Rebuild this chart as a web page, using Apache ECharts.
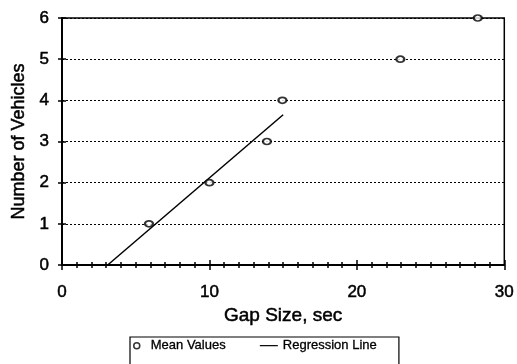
<!DOCTYPE html>
<html><head><meta charset="utf-8">
<script src="https://cdn.jsdelivr.net/npm/echarts@6/dist/echarts.min.js"></script>
<style>html,body{margin:0;padding:0;background:#fff}#c{width:517px;height:364px}</style>
</head><body><div id="c"></div>
<script>
const meanX = [5.9, 10.0, 13.9, 14.95, 22.95, 28.2];
const meanY = [1, 2, 3, 4, 5, 6];
const regX = [3.1, 15.0];
const regY = [0, 3.65];
const xTicks = [0, 10, 20, 30];
const yTicks = [0, 1, 2, 3, 4, 5, 6];

const chart = echarts.init(document.getElementById('c'), null, {renderer: 'canvas'});
const font = 'Liberation Sans, Arial, sans-serif';
const heavy = {textBorderColor: '#000', textBorderWidth: 0.5};
const xMin = xTicks[0], xMax = xTicks[xTicks.length - 1];
const yMin = yTicks[0], yMax = yTicks[yTicks.length - 1];
chart.setOption({
  animation: false,
  backgroundColor: '#fff',
  grid: {left: 62, right: 10, top: 18, bottom: 99, show: true, borderColor: '#000', borderWidth: 1.5, backgroundColor: 'transparent'},
  xAxis: [{
    type: 'value', min: xMin, max: xMax, interval: 10,
    name: 'Gap Size, sec', nameLocation: 'middle', nameGap: 39,
    nameTextStyle: Object.assign({fontFamily: font, fontSize: 19, color: '#000'}, heavy),
    axisLine: {show: true, onZero: false, lineStyle: {color: '#000', width: 2}},
    axisTick: {show: true, inside: false, length: 5, lineStyle: {color: '#000', width: 1.5}},
    minorTick: {show: true, splitNumber: 10, length: 3, lineStyle: {color: '#000', width: 1.5}},
    splitLine: {show: false},
    axisLabel: Object.assign({fontFamily: font, fontSize: 17, color: '#000', margin: 19}, heavy)
  }, {
    type: 'value', min: xMin, max: xMax, interval: 10, position: 'bottom', offset: 0,
    axisLine: {show: false}, axisLabel: {show: false}, splitLine: {show: false},
    axisTick: {show: true, inside: true, length: 5, lineStyle: {color: '#000', width: 1.5}},
    minorTick: {show: true, splitNumber: 10, length: 3, lineStyle: {color: '#000', width: 1.5}}
  }],
  yAxis: [{
    type: 'value', min: yMin, max: yMax, interval: 1,
    name: 'Number of Vehicles', nameLocation: 'middle', nameGap: 29,
    nameTextStyle: Object.assign({fontFamily: font, fontSize: 18, color: '#000'}, heavy),
    axisLine: {show: true, lineStyle: {color: '#000', width: 2}},
    axisTick: {show: true, length: 4, lineStyle: {color: '#000', width: 1.5}},
    splitLine: {show: true, lineStyle: {color: '#000', type: [2, 2], width: 1}},
    axisLabel: Object.assign({fontFamily: font, fontSize: 17, color: '#000', margin: 13}, heavy)
  }, {
    type: 'value', min: yMin, max: yMax, interval: 1, position: 'left', offset: 0,
    axisLine: {show: false}, axisLabel: {show: false}, splitLine: {show: false},
    axisTick: {show: true, inside: true, length: 4, lineStyle: {color: '#000', width: 1.5}}
  }],
  legend: {
    left: 130, top: 337,
    padding: [2, 22, 20, 3], itemGap: 34,
    borderColor: '#000', borderWidth: 1.2, backgroundColor: '#fff',
    textStyle: {fontFamily: font, fontSize: 13, color: '#000', textBorderColor: '#000', textBorderWidth: 0.3},
    itemWidth: 18, itemHeight: 6,
    data: [
      {name: 'Mean Values', icon: 'circle', itemStyle: {color: '#fff', borderColor: '#000', borderWidth: 1.5}},
      {name: 'Regression Line', icon: 'path://M0,0H18V1.2H0Z', itemStyle: {color: '#000', borderWidth: 0}}
    ]
  },
  series: [
    {
      name: 'Regression Line', type: 'line', symbol: 'none',
      data: regX.map((x, i) => [x, regY[i]]),
      lineStyle: {color: '#000', width: 1.5}, itemStyle: {color: '#000'}
    },
    {
      name: 'Mean Values', type: 'scatter', symbol: 'circle', symbolSize: [8, 6],
      data: meanX.map((x, i) => [x, meanY[i]]),
      itemStyle: {color: '#fff', borderColor: '#000', borderWidth: 2}, z: 5
    }
  ]
});
</script></body></html>
